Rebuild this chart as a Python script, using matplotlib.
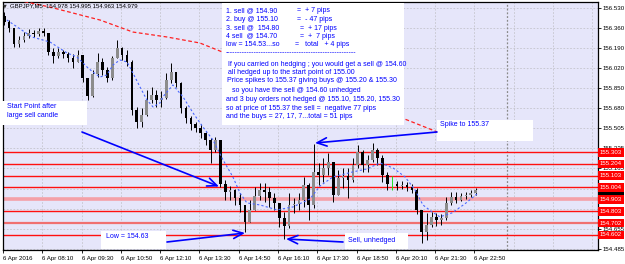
import matplotlib
matplotlib.use("Agg")
import matplotlib.pyplot as plt
from matplotlib.patches import Rectangle
import matplotlib.transforms as mtransforms
import numpy as np

first_open = 156.458
closes = [156.407, 156.356, 156.221, 156.255, 156.289, 156.314, 156.305, 156.331, 156.314, 156.153,
          156.119, 156.153, 156.136, 156.102, 156.068, 156.127, 155.933, 155.780, 155.966, 156.068,
          156.000, 155.933, 156.102, 156.187, 156.127, 156.068, 155.661, 155.560, 155.619, 155.746,
          155.789, 155.746, 155.763, 155.916, 155.983, 155.890, 155.678, 155.594, 155.543, 155.509,
          155.466, 155.407, 155.322, 155.407, 155.034, 154.966, 154.983, 154.916, 154.856, 154.712,
          154.814, 154.933, 154.983, 154.966, 154.916, 154.873, 154.746, 154.678, 154.856, 154.865,
          154.899, 155.026, 154.856, 155.136, 155.111, 155.170, 155.221, 154.941, 155.085, 155.102,
          155.068, 155.195, 155.305, 155.195, 155.238, 155.322, 155.255, 155.111, 155.034, 155.034,
          155.017, 155.026, 155.009, 154.983, 154.814, 154.627, 154.687, 154.755, 154.729, 154.746,
          154.873, 154.924, 154.899, 154.933, 154.941, 154.958, 154.979]
highs = [156.492, 156.424, 156.339, 156.289, 156.322, 156.348, 156.339, 156.356, 156.356, 156.314,
         156.187, 156.187, 156.170, 156.153, 156.136, 156.170, 156.127, 155.933, 156.000, 156.144,
         156.102, 156.026, 156.119, 156.255, 156.195, 156.170, 156.085, 155.687, 155.678, 155.831,
         155.856, 155.831, 155.822, 155.975, 156.060, 155.983, 155.899, 155.695, 155.610, 155.560,
         155.543, 155.475, 155.424, 155.433, 155.407, 155.068, 155.017, 154.992, 154.958, 154.856,
         154.899, 155.009, 155.043, 155.043, 155.009, 154.958, 154.856, 154.797, 154.958, 154.916,
         154.958, 155.094, 155.043, 155.370, 155.212, 155.255, 155.297, 155.221, 155.153, 155.170,
         155.170, 155.255, 155.365, 155.322, 155.280, 155.382, 155.339, 155.280, 155.136, 155.102,
         155.060, 155.060, 155.051, 155.034, 155.000, 154.814, 154.788, 154.797, 154.788, 154.780,
         154.924, 154.966, 154.966, 154.958, 154.966, 154.983, 155.000]
lows = [156.382, 156.322, 156.195, 156.195, 156.238, 156.272, 156.280, 156.289, 156.289, 156.127,
        156.060, 156.102, 156.102, 156.068, 156.017, 156.068, 155.899, 155.746, 155.772, 155.941,
        155.958, 155.899, 155.916, 156.102, 156.085, 156.034, 155.619, 155.509, 155.517, 155.610,
        155.721, 155.687, 155.687, 155.755, 155.890, 155.856, 155.636, 155.551, 155.492, 155.475,
        155.424, 155.365, 155.212, 155.305, 155.009, 154.899, 154.899, 154.856, 154.797, 154.630,
        154.712, 154.814, 154.899, 154.882, 154.839, 154.814, 154.670, 154.570, 154.661, 154.788,
        154.814, 154.839, 154.729, 154.831, 155.026, 155.051, 155.111, 154.882, 154.941, 155.000,
        154.916, 155.051, 155.170, 155.136, 155.136, 155.221, 155.195, 155.051, 154.983, 154.983,
        154.983, 154.992, 154.975, 154.958, 154.780, 154.530, 154.560, 154.670, 154.678, 154.687,
        154.729, 154.856, 154.873, 154.890, 154.907, 154.924, 154.941]

# moving averages (bar index in M5 bars, price)
red_ma_x = [0, 19.1, 39.5, 52.9, 66.8, 80.2, 90.4, 127.4, 164.5, 177.9, 193.4]
red_ma = [156.619, 156.534, 156.424, 156.322, 156.280, 156.229, 156.144, 155.856, 155.577, 155.466, 155.407]
blue_ma_x = [1.6, 11.8, 19.1, 26.1, 30.1, 34.2, 36.6, 39.5, 42.3, 44.8, 47.6, 50.5, 52.9, 55.8, 58.6,
             61.1, 63.9, 65.1, 69.2, 73.3, 77.4, 81.4, 85.5, 89.6, 93.6, 96.5, 99.3, 104.6, 111.6,
             118.1, 125, 129.1, 134.4, 142.5, 148.2, 153.5, 158.8, 163.7, 167.8, 171, 174.7, 177.9,
             182.8, 188.1, 193]
blue_ma = [156.424, 156.280, 156.238, 156.144, 156.111, 156.026, 155.983, 155.941, 155.958, 156.043,
           156.085, 156.068, 155.975, 155.856, 155.746, 155.687, 155.721, 155.772, 155.873, 155.772,
           155.636, 155.517, 155.407, 155.238, 155.094, 154.958, 154.873, 154.856, 154.814, 154.839,
           154.907, 155.017, 155.094, 155.136, 155.161, 155.212, 155.170, 155.094, 154.983, 154.856,
           154.797, 154.755, 154.788, 154.865, 154.949]

levels = [155.303, 155.204, 155.103, 155.004, 154.903, 154.803, 154.702, 154.602]
current_price = 154.979

y_ticks = [156.530, 156.360, 156.190, 156.020, 155.850, 155.680, 155.505, 155.335,
           155.165, 154.995, 154.825, 154.655, 154.485]
# 154.995 and 154.825 sit fully under the level labels in the screenshot
y_labels = ["156.530", "156.360", "156.190", "156.020", "155.850", "155.680", "155.505", "155.335",
            "155.165", "", "", "154.655", "154.485"]
x_ticks = [0, 16, 32, 48, 64, 80, 96, 112, 128, 144, 160, 176, 192]
x_labels = ["6 Apr 2016", "6 Apr 08:10", "6 Apr 09:30", "6 Apr 10:50", "6 Apr 12:10",
            "6 Apr 13:30", "6 Apr 14:50", "6 Apr 16:10", "6 Apr 17:30", "6 Apr 18:50",
            "6 Apr 20:10", "6 Apr 21:30", "6 Apr 22:50"]
day_break = 205.2

W, H = 625, 264
SANS = ["Liberation Sans", "DejaVu Sans"]
BLUE = "#0000ff"
AXFS = 4.4

fig = plt.figure(figsize=(W / 100, H / 100), dpi=100)
fig.patch.set_facecolor("white")
ax = fig.add_axes([3 / W, 1 - 249.5 / H, 595 / W, 248 / H])
ax.set_facecolor("#e6e6fa")
ax.set_xlim(0, 242.3)
ax.set_ylim(154.478, 156.581)

# grid
for yt in y_ticks:
    ax.axhline(yt, color="#c4c4cc", lw=0.6, ls=(0, (2, 2)), zorder=0)
for xt in x_ticks[1:] + [208, 224, 240]:
    ax.axvline(xt, color="#c4c4cc", lw=0.6, ls=(0, (2, 2)), zorder=0)
ax.axvline(day_break, color="#8a8a8a", lw=0.9, ls=(0, (1.5, 1.5)), zorder=0.5)

# horizontal levels
level_colors = ["#ff1010", "#ff1010", "#ff1010", "#ff1010", "#f4a0a8", "#ff1010", "#f07070", "#ff1010"]
level_widths = [1.0, 1.0, 1.0, 1.0, 2.6, 1.0, 1.6, 1.0]
for lv, c, w in zip(levels, level_colors, level_widths):
    ax.axhline(lv, color=c, lw=w, zorder=1)

# candles
opens = [first_open] + closes[:-1]
xs = np.arange(len(closes)) * 2 + 0.5
o = np.array(opens)
c = np.array(closes)
colors = np.where(o == c, "#22dd22", np.where(c > o, "#8c8c8c", "black"))
wick_colors = np.where(o == c, "#22dd22", "black")
ax.vlines(xs, lows, highs, colors=wick_colors, lw=0.7, zorder=2)
body = np.maximum(np.abs(c - o), 0.003)
ax.bar(xs, body, bottom=np.minimum(o, c), width=1.1, color=colors, lw=0, zorder=3)

# moving averages
ax.plot(red_ma_x, red_ma, color="#ff2020", lw=0.9, ls=(0, (3, 2)), zorder=4)
ax.plot(blue_ma_x, blue_ma, color="#4a68ff", lw=0.8, ls=(0, (2, 2)), zorder=4)

# axes styling
for s in ax.spines.values():
    s.set_color("black")
    s.set_linewidth(0.9)
ax.yaxis.tick_right()
ax.set_yticks(y_ticks)
ax.set_yticklabels(y_labels, fontsize=AXFS, family=SANS)
ax.tick_params(axis="y", length=2, width=0.6, pad=1)
ax.set_xticks(x_ticks)
ax.set_xticklabels(x_labels, fontsize=AXFS, family=SANS, ha="left")
ax.tick_params(axis="x", length=2, width=0.6, pad=3)

# price labels on the right
trans = mtransforms.blended_transform_factory(ax.transAxes, ax.transData)
ax.text(1.003, current_price, f"{current_price:.3f}", transform=trans, fontsize=AXFS, family=SANS,
        color="white", va="center", ha="left", zorder=10, clip_on=False,
        bbox=dict(boxstyle="square,pad=0.3", fc="black", ec="none"))
for lv in levels:
    ax.text(1.003, lv, f"{lv:.3f}", transform=trans, fontsize=AXFS, family=SANS,
            color="white", va="center", ha="left", zorder=11, clip_on=False,
            bbox=dict(boxstyle="square,pad=0.3", fc="#ff0000", ec="none"))

# annotation overlay in pixel coordinates
ov = fig.add_axes([0, 0, 1, 1])
ov.set_xlim(0, W)
ov.set_ylim(H, 0)
ov.axis("off")
ov.patch.set_alpha(0)

ov.text(3, 6, "\u25bc", fontsize=3.5, color="#333333", va="center", ha="left", family="DejaVu Sans")
ov.text(10, 6, "GBPJPY,M5  154.978 154.995 154.963 154.979", fontsize=4.3, family=SANS,
        color="black", va="center", ha="left")


def box(x0, y0, x1, y1):
    ov.add_patch(Rectangle((x0, y0), x1 - x0, y1 - y0, fc="white", ec="none", zorder=5))


def say(x, y, s, size=5.0):
    ov.text(x, y, s, fontsize=size, family=SANS, color=BLUE, va="center", ha="left", zorder=6)


box(222, 3, 404, 125)
rows = [(11, "1. sell @ 154.90", 297, "=  + 7 pips"),
        (19.5, "2. buy @ 155.10", 297, "=  - 47 pips"),
        (28, "3. sell @  154.80", 300, "=  + 17 pips"),
        (36, "4 sell  @ 154.70", 300, "=  +  7 pips"),
        (44.5, "low = 154.53...so", 295, "=   total   + 4 pips")]
for yy, left, xr, right in rows:
    say(226, yy, left)
    say(xr, yy, right)
say(226, 53, "-" * 55)
say(228, 64, "If you carried on hedging ; you would get a sell @ 154.60")
say(228, 72, "all hedged up to the start point of 155.00")
say(227, 81, "Price spikes to 155.37 giving buys @ 155.20 & 155.30")
say(232, 90.5, "so you have the sell @ 154.60 unhedged")
say(226, 99.5, "and 3 buy orders not hedged @ 155.10, 155.20, 155.30")
say(226, 108.5, "so at price of 155.37 the sell =  negative 77 pips")
say(226, 117, "and the buys = 27, 17, 7...total = 51 pips")

box(2, 101, 87, 125)
say(7, 107, "Start Point after")
say(7, 115.5, "large sell candle")

box(437, 120, 533, 141)
say(440, 125, "Spike to 155.37")

box(101, 231, 166, 249)
say(106, 236.5, "Low = 154.63")

box(345, 233, 408, 249)
say(348, 241, "Sell, unhedged")

arrows = [((82, 132), (219, 186.5)),
          ((167, 242), (245, 233)),
          ((343, 242), (286, 239)),
          ((437, 132), (315, 143))]
for tail, head in arrows:
    ov.annotate("", xy=head, xytext=tail, zorder=7,
                arrowprops=dict(arrowstyle="->,head_length=0.7,head_width=0.3", color=BLUE,
                                lw=1.2, shrinkA=0, shrinkB=0, mutation_scale=10))

fig.savefig("out.png", dpi=100)
